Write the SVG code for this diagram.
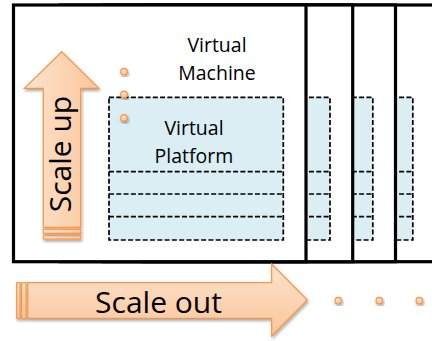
<svg xmlns="http://www.w3.org/2000/svg" width="432" height="341" viewBox="0 0 432 341">
  <defs>
    <linearGradient id="gradUp" x1="0" y1="0" x2="1" y2="0">
      <stop offset="0" stop-color="#FDE3CE"/>
      <stop offset="1" stop-color="#FBC69B"/>
    </linearGradient>
    <linearGradient id="gradOut" x1="0" y1="0" x2="0" y2="1">
      <stop offset="0" stop-color="#FDE3CE"/>
      <stop offset="1" stop-color="#FBC69B"/>
    </linearGradient>
    <radialGradient id="gradDot" cx="0.4" cy="0.35" r="0.7">
      <stop offset="0" stop-color="#FEE8D6"/>
      <stop offset="1" stop-color="#FAB987"/>
    </radialGradient>
    <filter id="shadow" x="-20%" y="-20%" width="150%" height="150%">
      <feDropShadow dx="1" dy="2" stdDeviation="1.5" flood-color="#000" flood-opacity="0.35"/>
    </filter>
    <!-- one virtual machine: frame + virtual platform slices -->
    <g id="vmShape">
      <rect x="13.5" y="5" width="292.5" height="256.7" class="frame"/>
      <rect x="109" y="97.3" width="174.3" height="142.7" class="platform"/>
      <line x1="109" y1="171.7" x2="283.3" y2="171.7" class="slice"/>
      <line x1="109" y1="194" x2="283.3" y2="194" class="slice"/>
      <line x1="109" y1="216.7" x2="283.3" y2="216.7" class="slice"/>
    </g>
  </defs>
  <style>
    .frame { fill: #ffffff; stroke: #000000; stroke-width: 3.2; }
    .platform { fill: #DAEEF3; stroke: #000000; stroke-width: 1.7; stroke-dasharray: 5 2.3; }
    .slice { stroke: #000000; stroke-width: 1.7; stroke-dasharray: 5 2.3; fill: none; }
    .arrow { stroke: #F79646; stroke-width: 1.2; }
    .dot { fill: url(#gradDot); stroke: #F79646; stroke-width: 1.2; filter: url(#shadow); }
    .label { font-family: "Open Sans", "Noto Sans", sans-serif; fill: #000000; }
    .small { font-size: 19.5px; }
    .big { font-size: 30px; }
  </style>

  <!-- stacked virtual machines, back to front -->
  <g id="vm4"><use href="#vmShape" transform="translate(129.5,0)"/></g>
  <g id="vm3"><use href="#vmShape" transform="translate(89.5,0)"/></g>
  <g id="vm2"><use href="#vmShape" transform="translate(46.7,0)"/></g>
  <g id="vm1">
    <use href="#vmShape"/>
    <text class="label small" text-anchor="middle" x="217" y="51.7">Virtual</text>
    <text class="label small" text-anchor="middle" x="217" y="80">Machine</text>
  </g>
  <g id="platform1">
    <text class="label small" text-anchor="middle" x="194" y="135">Virtual</text>
    <text class="label small" text-anchor="middle" x="194" y="163">Platform</text>
  </g>

  <!-- ellipsis dots between machine and platform -->
  <g id="dots-vertical">
    <circle class="dot" cx="124" cy="71.7" r="3.3"/>
    <circle class="dot" cx="124" cy="94.5" r="3.3"/>
    <circle class="dot" cx="124" cy="118" r="3.3"/>
  </g>

  <!-- scale up arrow -->
  <g id="scale-up" filter="url(#shadow)">
    <polygon class="arrow" fill="url(#gradUp)" points="61.7,51.7 99,88.3 80.7,88.3 80.7,227.3 43.3,227.3 43.3,88.3 24.3,88.3"/>
    <rect class="arrow" fill="url(#gradUp)" x="43.3" y="229.3" width="37.4" height="4"/>
    <rect class="arrow" fill="url(#gradUp)" x="43.3" y="235.7" width="37.4" height="3.3"/>
  </g>
  <text class="label big" text-anchor="middle" transform="translate(71,154) rotate(-90)">Scale up</text>

  <!-- scale out arrow -->
  <g id="scale-out" filter="url(#shadow)">
    <polygon class="arrow" fill="url(#gradOut)" points="27.7,282.7 271.7,282.7 271.7,264 307.3,300 271.7,336 271.7,318.3 27.7,318.3"/>
    <rect class="arrow" fill="url(#gradOut)" x="16.7" y="282.7" width="3.3" height="35.6"/>
    <rect class="arrow" fill="url(#gradOut)" x="21.7" y="282.7" width="4.3" height="35.6"/>
  </g>
  <text class="label big" text-anchor="middle" x="158.5" y="313">Scale out</text>

  <g id="dots-horizontal">
    <circle class="dot" cx="338.3" cy="300.7" r="3.3"/>
    <circle class="dot" cx="379.3" cy="300.7" r="3.3"/>
    <circle class="dot" cx="419.3" cy="300.7" r="3.3"/>
  </g>
</svg>
